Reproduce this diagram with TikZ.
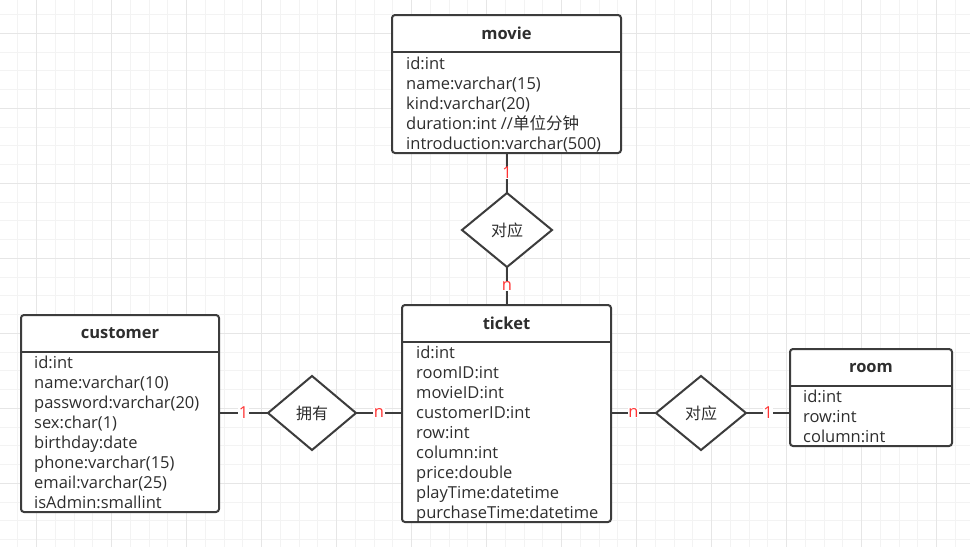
\documentclass[tikz,border=0pt]{standalone}
\usepackage{fontspec}
\setmainfont{Open Sans}
\newfontfamily\cjk{Noto Sans CJK SC}
\usetikzlibrary{shapes.geometric}
\definecolor{edgec}{HTML}{3C3C3C}
\definecolor{txtc}{HTML}{2E2E2E}
\definecolor{cardc}{HTML}{FF3333}
\definecolor{gridminor}{HTML}{F3F3F3}
\definecolor{gridmajor}{HTML}{E6E6E6}
\tikzset{
  entity/.style={draw=edgec, line width=2pt, rounded corners=3pt, fill=white, outer sep=0pt, inner sep=0pt},
  divline/.style={draw=edgec, line width=2pt},
  etitle/.style={text=txtc, font=\bfseries\fontsize{16.5}{19}\selectfont, inner sep=0pt},
  attr/.style={text=txtc, font=\fontsize{16.5}{18}\selectfont, anchor=base west, inner sep=0pt},
  rel/.style={draw=edgec, line width=2pt, shape=diamond, fill=white, inner sep=0pt, outer sep=0pt, text=txtc, font=\cjk\fontsize{16}{18}\selectfont},
  conn/.style={draw=edgec, line width=2pt},
  card/.style={text=cardc, fill=white, inner sep=0.5pt, font=\fontsize{16.5}{18}\selectfont},
}
\begin{document}
\begin{tikzpicture}[x=1pt,y=-1pt]
\useasboundingbox (0,0) rectangle (970,547);
\fill[white] (0,0) rectangle (970,547);
% grid
\begin{scope}
\clip (0,0) rectangle (970,547);
\foreach \k in {0,...,52} {
  \draw[gridminor, line width=1pt] ({17.95+18.75*\k},0) -- ({17.95+18.75*\k},547);
}
\foreach \k in {0,...,29} {
  \draw[gridminor, line width=1pt] (0,{14.55+18.75*\k}) -- (970,{14.55+18.75*\k});
}
\foreach \k in {0,...,13} {
  \draw[gridmajor, line width=1pt] ({36.7+75*\k},0) -- ({36.7+75*\k},547);
}
\foreach \k in {0,...,7} {
  \draw[gridmajor, line width=1pt] (0,{33.3+75*\k}) -- (970,{33.3+75*\k});
}
\end{scope}

% movie
\node[entity, minimum width=229, minimum height=138] (movie) at (506.5,84) {};
\draw[divline] (movie.west |- 0,52) -- (movie.east |- 0,52);
\node[etitle] (movie-t) at (506.5,33.5) {movie};
\foreach \t [count=\i] in {id:int, name:varchar(15), kind:varchar(20), duration:int //{\cjk 单位分钟}, introduction:varchar(500)}
  \node[attr] (movie-\i) at (406,{49+20*\i}) {\t};

% ticket
\node[entity, minimum width=209, minimum height=217] (ticket) at (506.5,413.5) {};
\draw[divline] (ticket.west |- 0,342) -- (ticket.east |- 0,342);
\node[etitle] (ticket-t) at (506.5,323.5) {ticket};
\foreach \t [count=\i] in {id:int, roomID:int, movieID:int, customerID:int, row:int, column:int, price:double, playTime:datetime, purchaseTime:datetime}
  \node[attr] (ticket-\i) at (416,{338.5+20*\i}) {\t};

% customer
\node[entity, minimum width=198, minimum height=197] (customer) at (120,413.5) {};
\draw[divline] (customer.west |- 0,352) -- (customer.east |- 0,352);
\node[etitle] (customer-t) at (120,333.5) {customer};
\foreach \t [count=\i] in {id:int, name:varchar(10), password:varchar(20), sex:char(1), birthday:date, phone:varchar(15), email:varchar(25), isAdmin:smallint}
  \node[attr] (customer-\i) at (34,{348.3+20*\i}) {\t};

% room
\node[entity, minimum width=162, minimum height=97] (room) at (871,397.5) {};
\draw[divline] (room.west |- 0,386) -- (room.east |- 0,386);
\node[etitle] (room-t) at (871,367.5) {room};
\foreach \t [count=\i] in {id:int, row:int, column:int}
  \node[attr] (room-\i) at (803,{382.7+20*\i}) {\t};

% relationships
\node[rel, minimum width=90, minimum height=74] (r1) at (507,230) {对应};
\node[rel, minimum width=88, minimum height=74] (r2) at (312,413) {拥有};
\node[rel, minimum width=90, minimum height=74] (r3) at (701,413) {对应};

% connectors
\draw[conn] (movie.south -| r1.north) -- node[card] {1} (r1.north);
\draw[conn] (r1.south) -- node[card] {n} (r1.south |- ticket.north);
\draw[conn] (customer.east |- r2.west) -- node[card] {1} (r2.west);
\draw[conn] (r2.east) -- node[card] {n} (r2.east -| ticket.west);
\draw[conn] (ticket.east |- r3.west) -- node[card] {n} (r3.west);
\draw[conn] (r3.east) -- node[card] {1} (r3.east -| room.west);
\end{tikzpicture}
\end{document}
